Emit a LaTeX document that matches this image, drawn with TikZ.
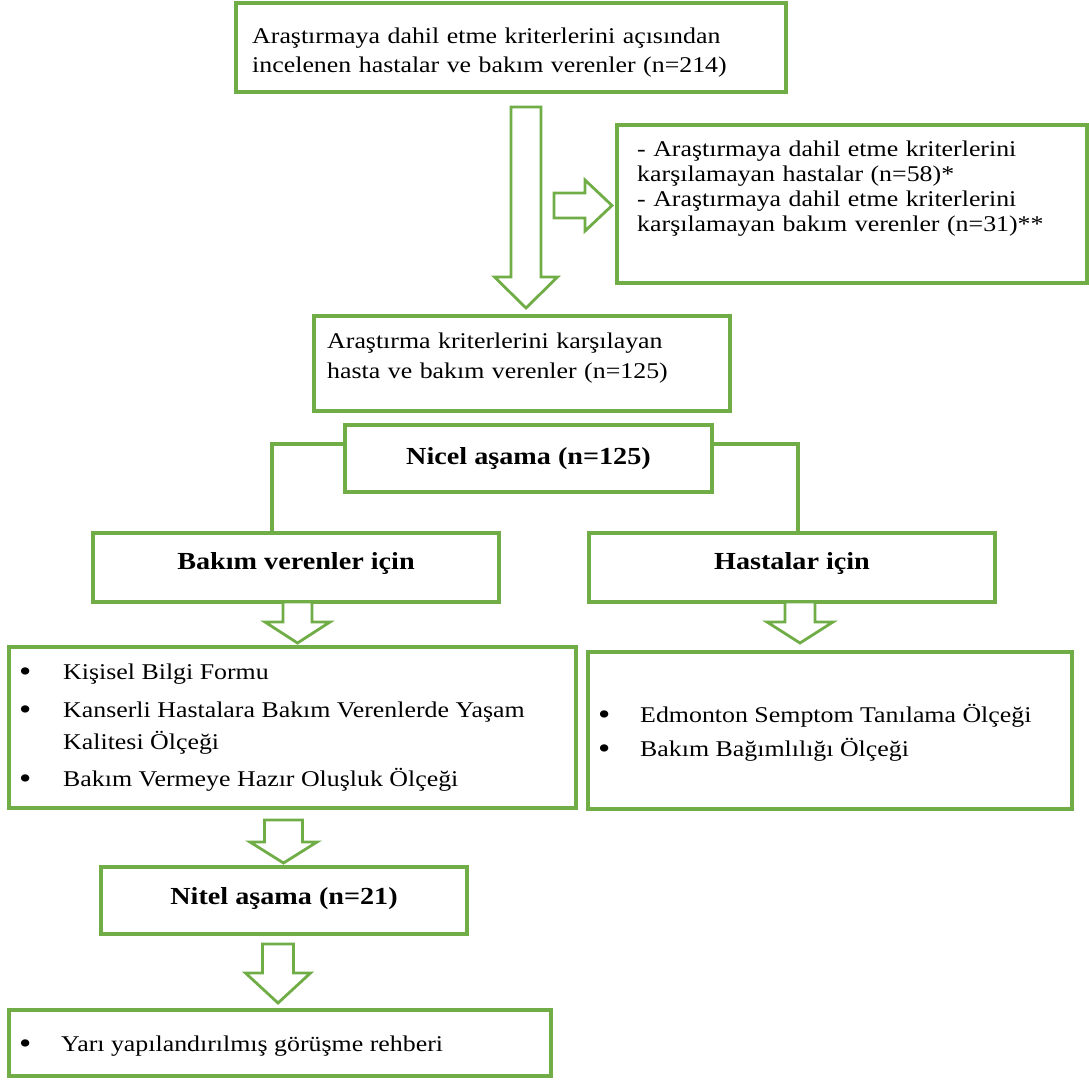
\documentclass[tikz,border=0pt]{standalone}
\usepackage{fontspec}
\usepackage{graphicx}
\setmainfont{Liberation Serif}[FakeStretch=1.15]
\usetikzlibrary{positioning}
\definecolor{boxgreen}{HTML}{70AD47}
\newcommand{\bul}{\raisebox{-2.5pt}{\scalebox{1.35}{\textbullet}}}

\begin{document}
\begin{tikzpicture}[
    x=1pt, y=-1pt,
    box/.style={draw=boxgreen, line width=3.2pt, inner sep=0pt},
    hollow/.style={draw=boxgreen, line width=2.8pt, line join=miter, fill=white},
    link/.style={draw=boxgreen, line width=3.2pt},
    txt/.style={font=\fontsize{22.5}{29}\selectfont, inner sep=0pt, align=left, text width=#1},
    txt/.default=520pt,
    list/.style={font=\fontsize{22.5}{#1}\selectfont, inner sep=0pt, anchor=base west},
    head/.style={font=\fontsize{24.5}{29}\selectfont\bfseries, inner sep=0pt},
]
\useasboundingbox (0,0) rectangle (1089,1079);

% --- Screening ---
\node[box, minimum width=550pt, minimum height=89pt] (screen) at (511,47.5) {};
\node[txt, anchor=base west] (screenT) at (252,43)
    {Araştırmaya dahil etme kriterlerini açısından\\incelenen hastalar ve bakım verenler (n=214)};

\node[box, minimum width=470pt, minimum height=158pt] (excl) at (852,204) {};
\node[txt=440pt, anchor=base west, font=\fontsize{22.5}{25}\selectfont] (exclT) at (637,156)
    {- Araştırmaya dahil etme kriterlerini\\karşılamayan hastalar (n=58)*\\- Araştırmaya dahil etme kriterlerini\\karşılamayan bakım verenler (n=31)**};

\node[box, minimum width=416pt, minimum height=95pt] (elig) at (522,363.5) {};
\node[txt=400pt, anchor=base west, font=\fontsize{22.5}{30}\selectfont] (eligT) at (327,348)
    {Araştırma kriterlerini karşılayan\\hasta ve bakım verenler (n=125)};

% --- Quantitative phase ---
\node[box, minimum width=367pt, minimum height=67pt] (quant) at (528.5,458.5) {};
\node[head, anchor=base] (quantT) at (528.5,464) {Nicel aşama (n=125)};

\node[box, minimum width=406pt, minimum height=69pt] (care) at (296,567.5) {};
\node[head, anchor=base] (careT) at (296,569) {Bakım verenler için};
\node[box, minimum width=406pt, minimum height=69pt] (pat) at (792,567.5) {};
\node[head, anchor=base] (patT) at (792,569) {Hastalar için};

\draw[link] ([yshift=14.5pt]quant.west) -| ([xshift=-24pt]care.north);
\draw[link] ([yshift=14.5pt]quant.east) -| ([xshift=6pt]pat.north);

\node[box, minimum width=567pt, minimum height=161pt] (careTools) at (292.5,727.5) {};
\node[list=32] (careToolsT) at (19,679)
    {\begin{tabular}[t]{@{}p{44pt}@{}l@{}}
     \bul & Kişisel Bilgi Formu\\[6pt]
     \bul & Kanserli Hastalara Bakım Verenlerde Yaşam\\
          & Kalitesi Ölçeği\\[5pt]
     \bul & Bakım Vermeye Hazır Oluşluk Ölçeği
     \end{tabular}};

\node[box, minimum width=484pt, minimum height=157pt] (patTools) at (830,730.5) {};
\node[list=34] (patToolsT) at (598,722)
    {\begin{tabular}[t]{@{}p{42pt}@{}l@{}}
     \bul & Edmonton Semptom Tanılama Ölçeği\\
     \bul & Bakım Bağımlılığı Ölçeği
     \end{tabular}};

% --- Qualitative phase ---
\node[box, minimum width=366pt, minimum height=67pt] (qual) at (284,900.5) {};
\node[head, anchor=base] (qualT) at (284,904) {Nitel aşama (n=21)};

\node[box, minimum width=542pt, minimum height=66pt] (guide) at (280,1043) {};
\node[list=32] (guideT) at (19,1051)
    {\begin{tabular}[t]{@{}p{42pt}@{}l@{}}
     \bul & Yarı yapılandırılmış görüşme rehberi
     \end{tabular}};

% Hollow block arrows (centre x / top / head start / tip / shaft half / head half)
\foreach \cx/\ya/\yb/\yc/\s/\h in {526/107/277/308/15/31.5,
                                   297.5/602/622/643/14.5/32.5,
                                   800/602/622/643/15/33,
                                   283.5/820/842/863/19/33.5,
                                   278/944/973/1003/15.5/32.5} {
    \draw[hollow] (\cx-\s,\ya) -- (\cx+\s,\ya) -- (\cx+\s,\yb) -- (\cx+\h,\yb)
        -- (\cx,\yc) -- (\cx-\h,\yb) -- (\cx-\s,\yb) -- cycle;
}
% sideways arrow to the exclusion box
\draw[hollow] (554,193) -- (585,193) -- (585,180) -- (612,205.5) -- (585,231)
    -- (585,218) -- (554,218) -- cycle;

\end{tikzpicture}
\end{document}
